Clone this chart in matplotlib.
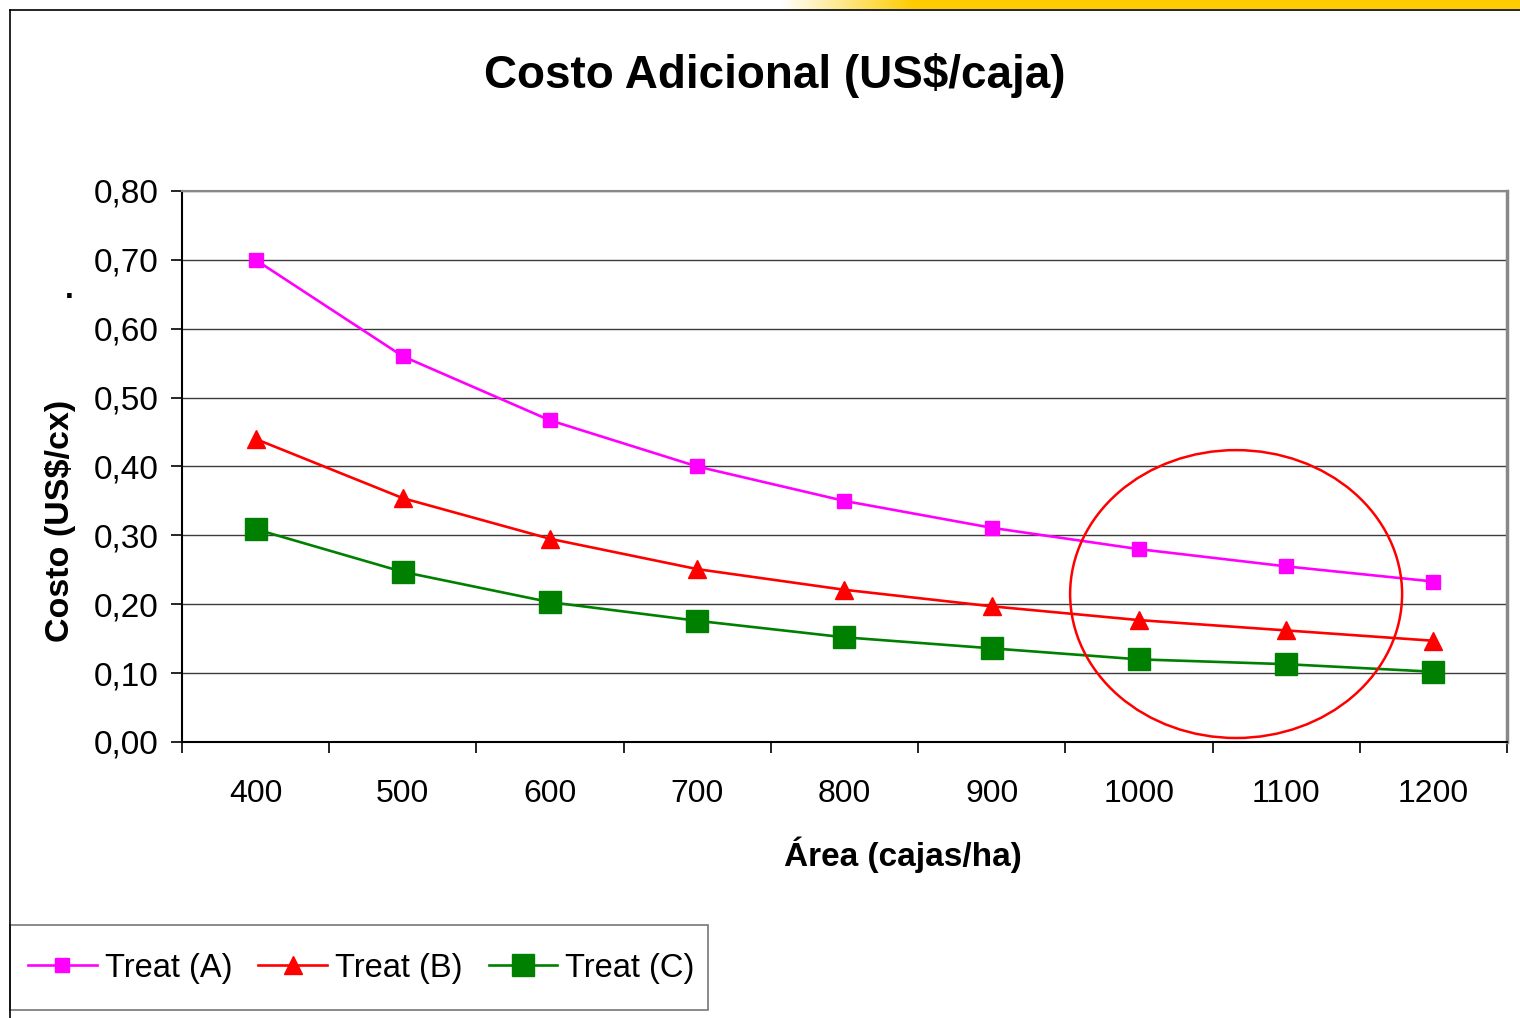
import numpy as np
import matplotlib.pyplot as plt
from matplotlib.patches import Ellipse, Rectangle
from matplotlib.lines import Line2D
from matplotlib.colors import LinearSegmentedColormap

plt.rcParams['font.family'] = ['Liberation Sans', 'DejaVu Sans']

# data
areas = ['400', '500', '600', '700', '800', '900', '1000', '1100', '1200']
treat_a = [0.700, 0.560, 0.467, 0.400, 0.350, 0.311, 0.280, 0.255, 0.233]
treat_b = [0.440, 0.354, 0.295, 0.251, 0.221, 0.197, 0.177, 0.162, 0.147]
treat_c = [0.309, 0.247, 0.203, 0.176, 0.152, 0.136, 0.120, 0.113, 0.102]
y_ticks = [0.0, 0.1, 0.2, 0.3, 0.4, 0.5, 0.6, 0.7, 0.8]
y_labels = ['0,00', '0,10', '0,20', '0,30', '0,40', '0,50', '0,60', '0,70', '0,80']

fig = plt.figure(figsize=(15.2, 10.18), dpi=100)
ax = fig.add_axes([182/1520, 1 - 742/1018, (1507-182)/1520, (742-191)/1018])

x = np.arange(len(areas))
ax.plot(x, treat_a, color='#FF00FF', lw=1.9, marker='s', ms=10,
        mec='#FF00FF', label='Treat (A)', zorder=4)
ax.plot(x, treat_b, color='#FF0000', lw=1.9, marker='^', ms=13,
        mec='#FF0000', label='Treat (B)', zorder=4)
ax.plot(x, treat_c, color='#008000', lw=1.9, marker='s', ms=16,
        mec='#008000', label='Treat (C)', zorder=4)

ax.set_xlim(-0.5, len(areas) - 0.5)
ax.set_ylim(0, 0.8)
ax.set_yticks(y_ticks)
ax.set_yticklabels(y_labels)
ax.set_xticks(x)
ax.set_xticklabels(areas)
ax.set_xticks(np.arange(len(areas) + 1) - 0.5, minor=True)
ax.tick_params(axis='x', which='major', length=0, pad=27, labelsize=23)
ax.tick_params(axis='x', which='minor', length=8, width=1.2, color='black',
               direction='out')
ax.tick_params(axis='y', length=8, width=1.2, pad=9, labelsize=24,
               direction='out')

ax.grid(axis='y', color='#3c3c3c', lw=1)
ax.set_axisbelow(True)
for s in ['left', 'bottom']:
    ax.spines[s].set_color('black')
    ax.spines[s].set_linewidth(1.5)
ax.spines['top'].set_color('#888888')
ax.spines['top'].set_linewidth(1.5)
ax.spines['right'].set_color('#888888')
ax.spines['right'].set_linewidth(2.5)

# highlight ellipse
ax.add_patch(Ellipse((6.66, 0.2148), 2.255, 0.418, fill=False,
                     edgecolor='#FF0000', lw=1.8, zorder=5, clip_on=False))

fig.text(775/1520, 1 - 75/1018, 'Costo Adicional (US$/caja)',
         ha='center', va='center', fontsize=33, fontweight='bold')
fig.text(903/1520, 1 - 855/1018, 'Área (cajas/ha)',
         ha='center', va='center', fontsize=24, fontweight='bold')
fig.text(60/1520, 1 - 521/1018, 'Costo (US$/cx)', rotation=90,
         ha='center', va='center', fontsize=24.5, fontweight='bold')
fig.text(69/1520, 1 - 290/1018, '.', ha='center', va='center',
         fontsize=23, fontweight='bold')

# outer frame lines
fig.add_artist(Line2D([10/1520, 1], [1 - 10/1018] * 2, color='black', lw=1.2))
fig.add_artist(Line2D([10/1520] * 2, [0, 1 - 10/1018], color='black', lw=1.2))

# yellow band at the top right
band = fig.add_axes([780/1520, 1 - 9/1018, 740/1520, 9/1018])
cmap = LinearSegmentedColormap.from_list(
    'band', [(0, 'white'), (0.18, '#FFCC00'), (1, '#FFCC00')])
band.imshow(np.linspace(0, 1, 256)[None, :], aspect='auto', cmap=cmap)
band.axis('off')

# legend box drawn separately, entries placed inside it
fig.add_artist(Rectangle((10/1520, 1 - 1010/1018), 698/1520, 85/1018,
                         transform=fig.transFigure, fill=False,
                         edgecolor='#777777', lw=1.2))
fig.legend(loc='center left', bbox_to_anchor=(28/1520, 1 - 968/1018),
           ncol=3, fontsize=23.5, frameon=False, handlelength=2.1,
           handletextpad=0.25, columnspacing=0.8, borderpad=0,
           borderaxespad=0)

fig.savefig('out.png', dpi=100, facecolor='white')
